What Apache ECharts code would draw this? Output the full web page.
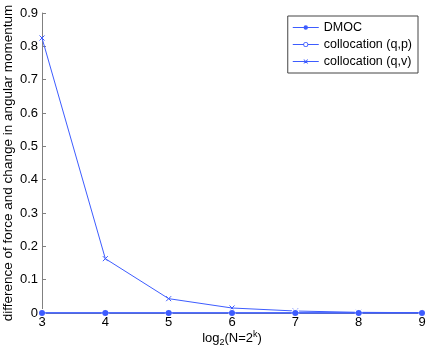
<!DOCTYPE html>
<html>
<head>
<meta charset="utf-8">
<script src="https://cdn.jsdelivr.net/npm/echarts@6/dist/echarts.min.js"></script>
<style>
html, body { margin: 0; padding: 0; background: #fff; }
#main { width: 432px; height: 351px; }
</style>
</head>
<body>
<div id="main"></div>
<script>
var kValues = [3, 4, 5, 6, 7, 8, 9];
var dmoc = [0.0003, 0.0003, 0.0003, 0.0003, 0.0003, 0.0003, 0.0003];
var collocQP = [0.0002, 0.0002, 0.0002, 0.0002, 0.0002, 0.0002, 0.0002];
var collocQV = [0.825, 0.163, 0.043, 0.015, 0.006, 0.002, 0.001];
var yTicks = [0, 0.1, 0.2, 0.3, 0.4, 0.5, 0.6, 0.7, 0.8, 0.9];

var blue = '#3d5cff';
var font = 'Liberation Sans, Arial, sans-serif';

// legend icons: line sample with marker in the middle (26 x 7 box)
var iconDot = 'path://M0,3.1L26,3.1L26,3.9L0,3.9Z' +
	'M10.8,3.5a2.2,2.2 0 1,1 4.4,0a2.2,2.2 0 1,1 -4.4,0Z';
var iconRing = 'path://M0,3.1L10.6,3.1L10.6,3.9L0,3.9Z' +
	'M15.4,3.1L26,3.1L26,3.9L15.4,3.9Z' +
	'M10.5,3.5a2.5,2.5 0 1,1 5,0a2.5,2.5 0 1,1 -5,0Z' +
	'M11.3,3.5a1.7,1.7 0 1,0 3.4,0a1.7,1.7 0 1,0 -3.4,0Z';
var iconCross = 'path://M0,3.1L26,3.1L26,3.9L0,3.9Z' +
	'M10.7,1.8L11.3,1.2L15.3,5.2L14.7,5.8Z' +
	'M14.7,1.2L15.3,1.8L11.3,5.8L10.7,5.2Z';

function pairs(ys) {
	return kValues.map(function (k, i) { return [k, ys[i]]; });
}

var myChart = echarts.init(document.getElementById('main'));

var option = {
	animation: false,
	backgroundColor: '#fff',
	grid: { left: 42, right: 10, top: 13, bottom: 38, containLabel: false, outerBoundsMode: 'none' },
	legend: {
		right: 14,
		top: 16,
		orient: 'vertical',
		itemWidth: 26,
		itemHeight: 7,
		itemGap: 4,
		padding: [5, 6, 5, 5],
		borderColor: '#444',
		borderWidth: 1,
		backgroundColor: '#fff',
		textStyle: { fontFamily: font, fontSize: 12.5, color: '#000', lineHeight: 13 },
		data: [
			{ name: 'DMOC', icon: iconDot, itemStyle: { color: blue, borderWidth: 0 } },
			{ name: 'collocation (q,p)', icon: iconRing, itemStyle: { color: blue, borderWidth: 0 } },
			{ name: 'collocation (q,v)', icon: iconCross, itemStyle: { color: blue, borderWidth: 0 } }
		]
	},
	xAxis: {
		type: 'value',
		min: 3,
		max: 9,
		interval: 1,
		name: '{a|log}{s|2}{a|(N=2}{p|k}{a|)}',
		nameLocation: 'middle',
		nameGap: 17,
		nameMoveOverlap: false,
		nameTextStyle: {
			rich: {
				a: { fontFamily: font, fontSize: 13, color: '#000' },
				s: { fontFamily: font, fontSize: 9, color: '#000', verticalAlign: 'bottom', padding: [8, 0, 0, 0] },
				p: { fontFamily: font, fontSize: 9, color: '#000', verticalAlign: 'top', padding: [0, 0, 8, 0] }
			}
		},
		splitLine: { show: false },
		axisLine: { onZero: false, lineStyle: { color: '#808080' } },
		axisTick: { inside: true, length: 4, lineStyle: { color: '#808080' } },
		axisLabel: { fontFamily: font, fontSize: 13, color: '#000', margin: 3 }
	},
	yAxis: {
		type: 'value',
		min: 0,
		max: 0.9,
		interval: 0.1,
		name: 'difference of force and change in angular momentum',
		nameLocation: 'middle',
		nameGap: 27,
		nameMoveOverlap: false,
		nameTextStyle: { fontFamily: font, fontSize: 13.5, color: '#000' },
		splitLine: { show: false },
		axisLine: { show: true, lineStyle: { color: '#808080' } },
		axisTick: { show: true, inside: true, length: 4, lineStyle: { color: '#808080' } },
		axisLabel: {
			fontFamily: font, fontSize: 13, color: '#000', margin: 4,
			formatter: function (v) {
				var t = yTicks.filter(function (y) { return Math.abs(y - v) < 1e-6; });
				return t.length ? String(t[0]) : '';
			}
		}
	},
	series: [{
		name: 'collocation (q,v)',
		type: 'line',
		data: pairs(collocQV),
		symbol: 'path://M0,0L10,10M10,0L0,10',
		symbolSize: 5,
		lineStyle: { color: blue, width: 1 },
		itemStyle: { color: 'none', borderColor: blue, borderWidth: 1 },
		z: 2
	}, {
		name: 'collocation (q,p)',
		type: 'line',
		data: pairs(collocQP),
		symbol: 'emptyCircle',
		symbolSize: 6,
		lineStyle: { color: blue, width: 1 },
		itemStyle: { color: '#fff', borderColor: blue, borderWidth: 1 },
		z: 3
	}, {
		name: 'DMOC',
		type: 'line',
		data: pairs(dmoc),
		symbol: 'circle',
		symbolSize: 6,
		lineStyle: { color: blue, width: 1.5 },
		itemStyle: { color: blue },
		z: 4
	}]
};
myChart.setOption(option);
</script>
</body>
</html>
